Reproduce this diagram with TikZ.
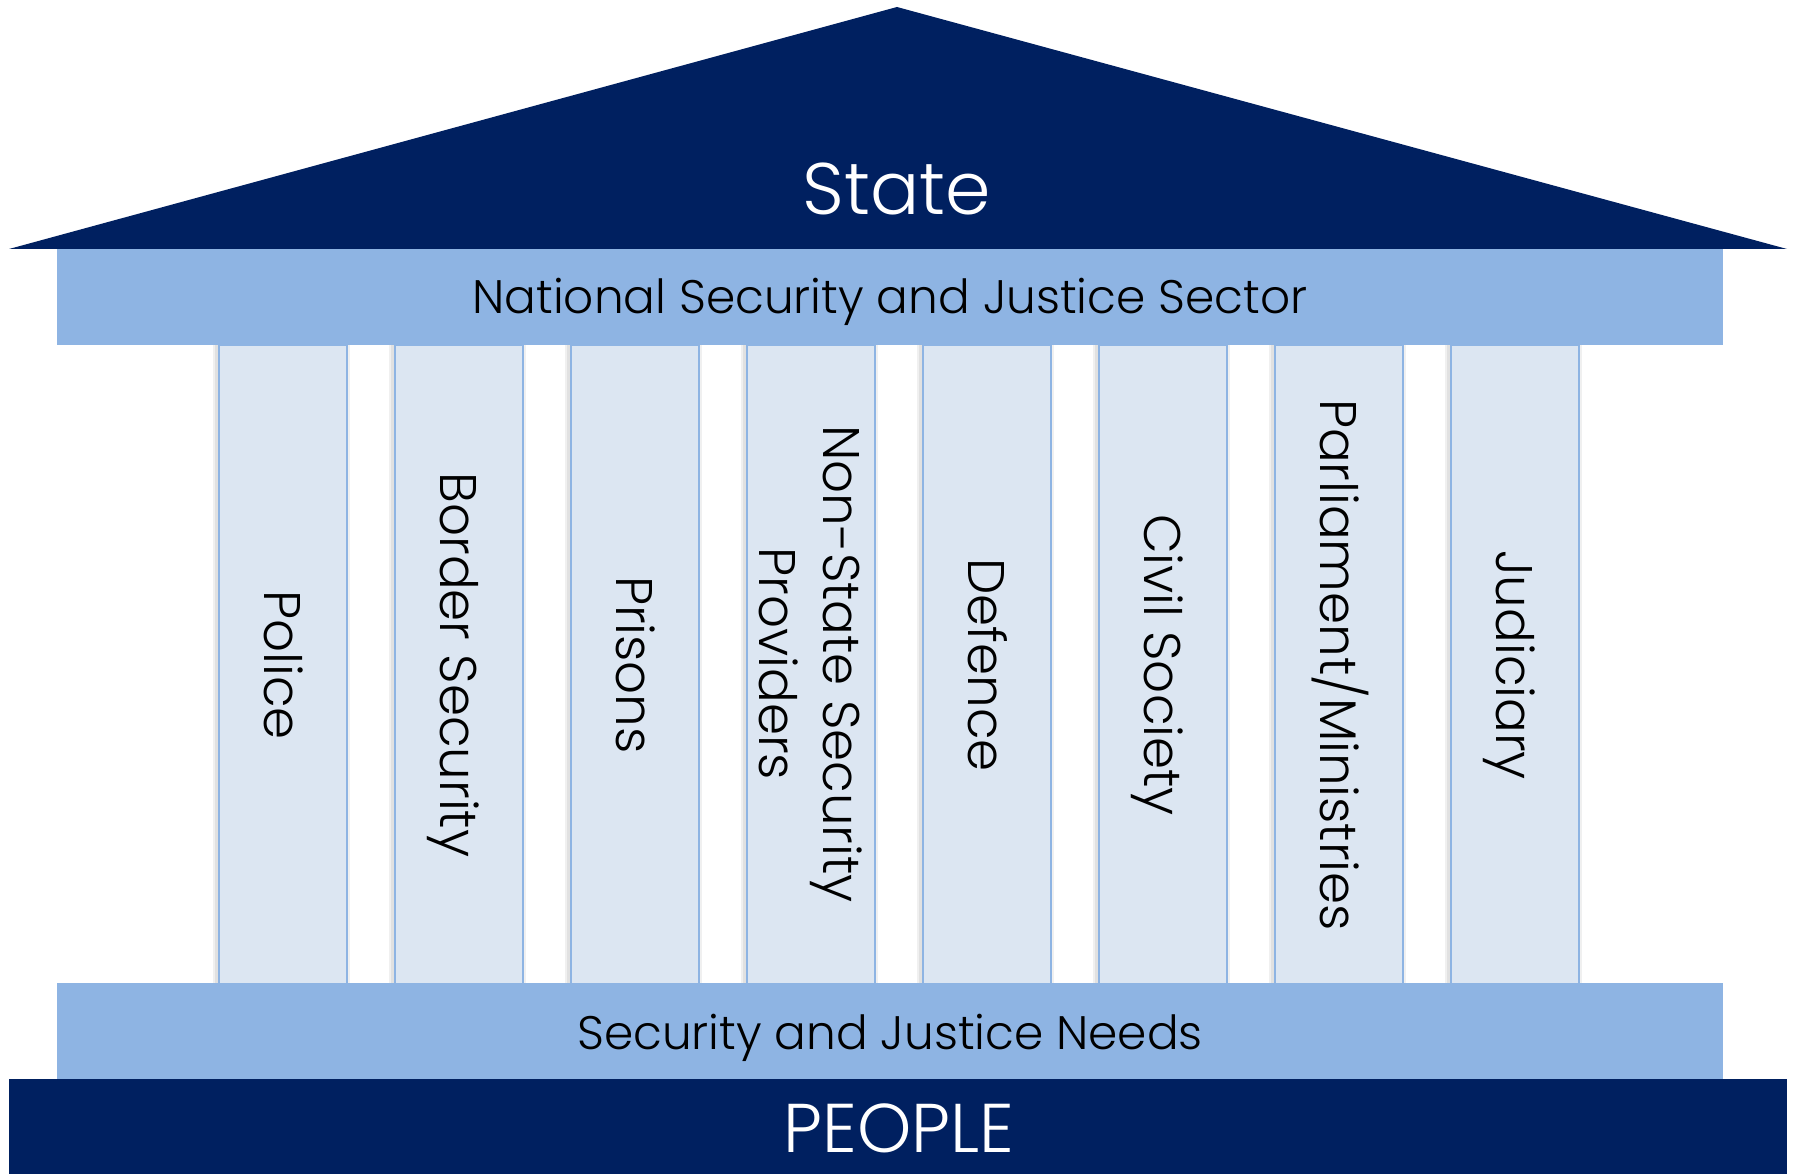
\documentclass[tikz,border=0pt]{standalone}
\usepackage{fontspec}
\setmainfont{Poppins Light}
\definecolor{navy}{HTML}{002060}
\definecolor{barblue}{HTML}{8EB4E3}
\definecolor{colfill}{HTML}{DCE6F2}
\begin{document}
\begin{tikzpicture}[x=1pt,y=-1pt,
  bar/.style={fill=barblue,draw=none},
  dark/.style={fill=navy,draw=none},
  pillar/.style={fill=colfill,draw=barblue,line width=2pt},
  pillarshadow/.style={fill=black,opacity=0.06,draw=none},
  coltext/.style={font=\fontsize{51.5}{62}\selectfont,rotate=-90,anchor=base,inner sep=0pt},
  bartext/.style={font=\fontsize{47}{56}\selectfont,anchor=base,inner sep=0pt},
  whitetext/.style={text=white,anchor=base,inner sep=0pt}]
\useasboundingbox (0,0) rectangle (1796,1174);
\fill[white] (0,0) rectangle (1796,1174);
% roof
\path[dark] (897,7) -- (1787,249) -- (9,249) -- cycle;
\node[whitetext,font=\fontsize{73}{86}\selectfont] (state) at (897,215) {State};
% pillars
\foreach \i/\name in {0/c1,1/c2,2/c3,3/c4,4/c5,5/c6,6/c7,7/c8}{
  \pgfmathsetmacro\xl{217+176*\i}
  \fill[pillarshadow] (\xl-4,345) rectangle (\xl+133,983);
  \fill[pillarshadow] (\xl-2,345) rectangle (\xl+131,983);
  \node[pillar,minimum width=128pt,minimum height=640pt,inner sep=0pt,anchor=north west] (\name) at (\xl+0.5,344) {};
}
\node[coltext] (t1) at ([xshift=-18pt]c1.center) {Police};
\node[coltext] (t2) at ([xshift=-18pt]c2.center) {Border Security};
\node[coltext] (t3) at ([xshift=-18pt]c3.center) {Prisons};
\node[coltext] (t4a) at (823,664) {Non-State Security};
\node[coltext] (t4b) at (759,664) {Providers};
\node[coltext] (t5) at ([xshift=-18pt]c5.center) {Defence};
\node[coltext] (t6) at ([xshift=-18pt]c6.center) {Civil Society};
\node[coltext] (t7) at ([xshift=-18pt]c7.center) {Parliament/Ministries};
\node[coltext] (t8) at ([xshift=-18pt]c8.center) {Judiciary};
% top bar
\path[bar] (57,249) rectangle (1723,345);
\node[bartext] (nat) at (890,313) {National Security and Justice Sector};
% bottom bar
\path[bar] (57,983) rectangle (1723,1079);
\node[bartext] (needs) at (890,1049) {Security and Justice Needs};
% people
\path[dark] (9,1079) rectangle (1787,1174);
\node[whitetext,font=\fontsize{69}{82}\selectfont] (people) at (899,1152) {PEOPLE};
\end{tikzpicture}
\end{document}
